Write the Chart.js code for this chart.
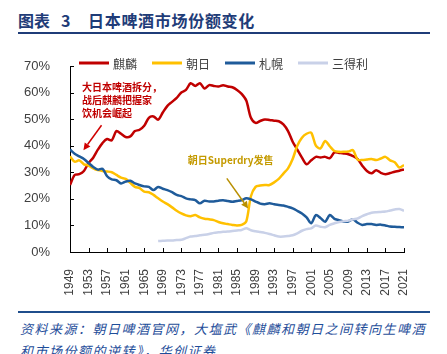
<!DOCTYPE html>
<html><head><meta charset="utf-8">
<script src="https://cdn.jsdelivr.net/npm/chart.js@4"></script>
<style>
html,body{margin:0;padding:0;background:#fff;width:447px;height:354px;overflow:hidden;}
.t{position:absolute;top:10px;font-family:"Noto Sans CJK SC";font-weight:700;font-size:16px;line-height:20px;color:#1f3c78;white-space:nowrap;}
#tl{position:absolute;left:18px;top:32px;width:412px;height:2px;background:#1f3c78;}
#wrap{position:absolute;left:0;top:40px;width:447px;height:262px;}
#sl{position:absolute;left:18px;top:311px;width:412px;height:2px;background:#1f4e8c;}
#src{position:absolute;left:20px;top:318px;width:430px;font-family:"Noto Sans CJK SC";font-style:italic;font-size:13px;line-height:22px;color:#1f4e9a;letter-spacing:1.5px;white-space:nowrap;}
</style></head>
<body>
<div class="t" style="left:18px">图表</div>
<div class="t" style="left:61px">3</div>
<div class="t" style="left:88px;letter-spacing:0.7px">日本啤酒市场份额变化</div>
<div id="tl"></div>
<div id="wrap"><canvas id="c" width="447" height="262"></canvas></div>
<div id="sl"></div>
<div id="src">资料来源：朝日啤酒官网，大塩武《麒麟和朝日之间转向生啤酒<br>和市场份额的逆转》，华创证券</div>
<script>
const years = [1949,1950,1951,1952,1953,1954,1955,1956,1957,1958,1959,1960,1961,1962,1963,1964,1965,1966,1967,1968,1969,1970,1971,1972,1973,1974,1975,1976,1977,1978,1979,1980,1981,1982,1983,1984,1985,1986,1987,1988,1989,1990,1991,1992,1993,1994,1995,1996,1997,1998,1999,2000,2001,2002,2003,2004,2005,2006,2007,2008,2009,2010,2011,2012,2013,2014,2015,2016,2017,2018,2019,2020,2021];
const tickYears = [1949,1953,1957,1961,1965,1969,1973,1977,1981,1985,1989,1993,1997,2001,2005,2009,2013,2017,2021];
const yTicks = [0,10,20,30,40,50,60,70];
const seriesNames = ['麒麟','朝日','札幌','三得利'];
const kirin = [25.2,29,29.3,30.5,33.5,35.5,38.5,41,42.5,42,45.5,44.5,43.3,43.5,45.5,46,47.5,50.5,51,49.8,52.5,55,56.5,58,60,61,63.5,62.5,63.5,61.5,62.8,62.5,62.3,62.8,62.3,62,61,59.5,57,50.5,48.6,49.3,49.9,49.7,49.4,49.2,48,45.5,41.5,38.5,35.5,33,34.5,35.8,35.6,35.8,35.3,37.5,37.3,37.1,36.8,36.1,35,32.5,30.5,29.6,30.8,29.8,29.3,29.7,30.2,30.6,31.1];
const asahi = [36,34,34.5,33,32.5,31.5,30.8,30.5,30.3,30,29,28,27.5,26,24.5,24,22.7,22.5,21.5,20.2,19,18,16.8,15.5,14.5,13.8,13.5,13.9,13,12.5,12.3,12,11.3,10.8,10.5,10.2,10,10.2,11.5,21,24.5,25,25.2,25.2,26.2,27.5,29.5,31.5,35,40,43,44.5,44.9,40,39,41.8,39.8,38,37.7,37.7,37.8,38.3,34.8,34.6,34.8,35,34.6,35.2,35.8,34.5,33.8,31.8,32.7];
const sapporo = [38.6,37,36,35,33.5,32,31,31.3,28.5,27.3,27,25.8,26.5,26.8,25.8,25.2,24.7,24.5,23.3,24.5,23.8,23.3,22.5,21.5,21,20.2,19.8,19.5,18.3,19.3,19,19,19.3,19.5,19.2,18.9,19.2,19.5,20.2,19.8,19,18.2,18,18.3,18,17.7,17.5,17,16.4,15.5,14.5,13,10.8,13.9,12.8,11.4,13.9,12.5,12,11.4,11.5,12.3,11,10.2,10.5,10.5,10.2,10.3,10,9.6,9.5,9.4,9.3];
const suntory = [null,null,null,null,null,null,null,null,null,null,null,null,null,null,null,null,null,null,null,4.1,4.2,4.3,4.3,4.5,4.6,5.2,5.8,6,6.3,6.5,6.8,7.2,7.4,7.6,7.7,7.9,8.1,8.3,8.9,8.2,7.8,7.5,7.2,6.8,6.3,5.8,5.8,6,6.3,7,8,8.6,8.9,10,9.5,9.3,10.2,10.8,11.3,11.6,11.8,12.3,12.6,13.5,14.2,14.8,15,15.1,15.2,15.6,16,16.2,15.5];
const seriesColors = ['#c00000','#ffc000','#1f5b9a','#c9d1e8'];
const noteRed = ['大日本啤酒拆分，','战后麒麟把握家','饮机会崛起'];
const noteGold = '朝日Superdry发售';
// annotation anchors in data units [year, percent]
const redTextAt = [1951.6, 62];
const redArrow = [[1955.8, 47.7],[1951.9, 38.3]];
const goldTextAt = [1974.4, 34.6];
const goldArrow = [[1982.8, 27.7],[1987.4, 16.4]];

const toPts = arr => years.map((yr,i)=>({x:yr,y:arr[i]})).filter(p=>p.y!==null);
const allSeries = [kirin,asahi,sapporo,suntory];
const datasets = allSeries.map((arr,i)=>({
  label: seriesNames[i], data: toPts(arr), borderColor: seriesColors[i], backgroundColor: seriesColors[i],
  borderWidth: 2.5, pointRadius: 0, tension: 0.3, order: 4-i, fill:false
}));

function arrow(ctx, x1,y1,x2,y2,color){
  const ang = Math.atan2(y2-y1,x2-x1), L=7, W=3.5;
  const bx = x2 - L*Math.cos(ang), by = y2 - L*Math.sin(ang);
  ctx.strokeStyle=color; ctx.fillStyle=color; ctx.lineWidth=1.5;
  ctx.beginPath(); ctx.moveTo(x1,y1); ctx.lineTo(bx,by); ctx.stroke();
  ctx.beginPath(); ctx.moveTo(x2,y2);
  ctx.lineTo(bx + W*Math.sin(ang), by - W*Math.cos(ang));
  ctx.lineTo(bx - W*Math.sin(ang), by + W*Math.cos(ang));
  ctx.closePath(); ctx.fill();
}

const extras = {
  id:'extras',
  afterDatasetsDraw(chart){
    const {ctx, chartArea:a, scales:{x,y}} = chart;
    ctx.save();
    ctx.strokeStyle='#000'; ctx.lineWidth=1;
    x.ticks.forEach(t=>{const px=Math.round(x.getPixelForValue(t.value))+0.5; ctx.beginPath(); ctx.moveTo(px,a.bottom); ctx.lineTo(px,a.bottom-4); ctx.stroke();});
    y.ticks.forEach(t=>{const py=Math.round(y.getPixelForValue(t.value))+0.5; ctx.beginPath(); ctx.moveTo(a.left,py); ctx.lineTo(a.left+4,py); ctx.stroke();});
    // legend
    ctx.font = '12px "Noto Sans CJK SC"';
    ctx.textBaseline='middle'; ctx.textAlign='left';
    const ds = chart.data.datasets;
    const LW=30, G1=4, G2=15;
    const widths = ds.map(d=>LW+G1+ctx.measureText(d.label).width);
    const total = widths.reduce((s,w)=>s+w,0)+G2*(ds.length-1);
    let lx = (chart.width-total)/2; const ly = 23;
    ds.forEach((d,i)=>{
      ctx.strokeStyle=d.borderColor; ctx.lineWidth=3;
      ctx.beginPath(); ctx.moveTo(lx,ly); ctx.lineTo(lx+LW,ly); ctx.stroke();
      ctx.fillStyle='#404040'; ctx.fillText(d.label, lx+LW+G1, ly+1);
      lx += widths[i]+G2;
    });
    // annotations
    ctx.font = 'bold 10px "Noto Sans CJK SC"';
    ctx.fillStyle='#c00000';
    const rx = x.getPixelForValue(redTextAt[0]), ry = y.getPixelForValue(redTextAt[1]);
    noteRed.forEach((s,i)=>ctx.fillText(s, rx, ry+i*13));
    arrow(ctx, x.getPixelForValue(redArrow[0][0]), y.getPixelForValue(redArrow[0][1]), x.getPixelForValue(redArrow[1][0]), y.getPixelForValue(redArrow[1][1]), '#d00000');
    ctx.fillStyle='#c49a00';
    ctx.fillText(noteGold, x.getPixelForValue(goldTextAt[0]), y.getPixelForValue(goldTextAt[1]));
    arrow(ctx, x.getPixelForValue(goldArrow[0][0]), y.getPixelForValue(goldArrow[0][1]), x.getPixelForValue(goldArrow[1][0]), y.getPixelForValue(goldArrow[1][1]), '#b88f00');
    ctx.restore();
  }
};

new Chart(document.getElementById('c'), {
  type:'line',
  data:{datasets},
  options:{
    responsive:false, animation:false, devicePixelRatio:1,
    layout:{padding:{left:0,right:43,top:26,bottom:0}},
    plugins:{legend:{display:false}, tooltip:{enabled:false}},
    scales:{
      x:{type:'linear', min:1949, max:2021,
        afterBuildTicks:s=>{s.ticks=tickYears.map(v=>({value:v}));},
        afterFit:s=>{s.height=50;},
        grid:{display:false}, border:{display:true,color:'#000',width:1},
        ticks:{autoSkip:false,maxRotation:90,minRotation:90,padding:9,color:'#404040',font:{family:'Liberation Sans',size:12},callback:v=>String(v)}},
      y:{min:0,max:70,
        afterBuildTicks:s=>{s.ticks=yTicks.map(v=>({value:v}));},
        afterFit:s=>{s.width=70;},
        grid:{display:false}, border:{display:true,color:'#000',width:1},
        ticks:{padding:12,color:'#404040',font:{family:'Liberation Sans',size:13},callback:v=>v+'%'}}
    }
  },
  plugins:[extras]
});
</script>
</body></html>
